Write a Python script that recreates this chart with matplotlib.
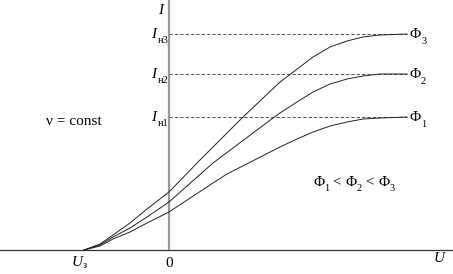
import matplotlib
matplotlib.use("Agg")
import matplotlib.pyplot as plt

# Data (U and I in arbitrary units; origin at U=0, I=0)
U_stop = -85  # U_з
I_sat = [133, 176, 216]  # I_н1, I_н2, I_н3
U_end = 238

U_phi1 = [-85, -69, -56, -39, -22, 0, 44, 58, 111, 128, 144, 161, 178, 194, 211, 238]
I_phi1 = [0, 4, 11, 18, 27, 38, 67, 76, 103, 111, 118, 124, 128, 131, 132, 133]
U_phi2 = [-85, -69, -56, -39, -22, 0, 44, 104, 111, 128, 144, 161, 178, 194, 211, 238]
I_phi2 = [0, 5, 13, 22, 33, 48, 87, 132, 137, 148, 158, 166, 171, 174, 176, 176]
U_phi3 = [-85, -69, -56, -39, -22, 0, 31, 73, 111, 123, 144, 161, 178, 194, 211, 238]
I_phi3 = [0, 6, 15, 27, 41, 58, 90, 132, 168, 177, 193, 203, 209, 213, 215, 216]

sat_labels = ["н1", "н2", "н3"]
phi_labels = ["1", "2", "3"]

plt.rcParams['font.family'] = ['Liberation Serif', 'DejaVu Serif']

fig = plt.figure(figsize=(4.53, 2.74), dpi=100)
ax = fig.add_axes([0, 0, 1, 1])
ax.set_xlim(-169, 284)
ax.set_ylim(-24, 250)
ax.axis('off')

# axes
ax.axhline(0, color='#333333', lw=0.9)
ax.plot([0, 0], [0, 250], color='#999999', lw=1.6, solid_capstyle='butt')

# dashed saturation lines
for Is in I_sat:
    ax.plot([0, U_end], [Is, Is], color='#555555', lw=0.7, ls=(0, (3.5, 2)))

# curves
for Us, Is in [(U_phi1, I_phi1), (U_phi2, I_phi2), (U_phi3, I_phi3)]:
    ax.plot(Us, Is, color='#222222', lw=0.7, solid_joinstyle='round')

fs = 11
sfs = 7.5
# I label
ax.text(-6, 236, "I", fontsize=fs, style='italic', ha='right', va='baseline')
for Is, lab in zip(I_sat, sat_labels):
    ax.text(-13, Is - 4, "I", fontsize=fs, style='italic', ha='right', va='baseline')
    ax.text(-11, Is - 9, lab, fontsize=sfs, ha='left', va='baseline')
for Is, lab in zip(I_sat, phi_labels):
    ax.text(U_end + 3, Is - 4, "Φ", fontsize=fs, ha='left', va='baseline')
    ax.text(U_end + 14, Is - 10, lab, fontsize=sfs, ha='left', va='baseline')

# U axis labels
ax.text(U_stop - 1, -16, "U", fontsize=fs, style='italic', ha='right', va='baseline')
ax.text(U_stop - 1, -18, "з", fontsize=sfs, ha='left', va='baseline')
ax.text(0, -17, "0", fontsize=fs, ha='center', va='baseline')
ax.text(276, -12, "U", fontsize=fs, style='italic', ha='right', va='baseline')

ax.text(-95, 125, "ν = const", fontsize=fs, ha='center', va='baseline')

# Φ1 < Φ2 < Φ3
x0 = 144
y0 = 64
parts = [("Φ", fs, 0), ("1", sfs, -5), (" < ", fs, 0), ("Φ", fs, 0), ("2", sfs, -5), (" < ", fs, 0), ("Φ", fs, 0), ("3", sfs, -5)]
fig.canvas.draw()
renderer = fig.canvas.get_renderer()
xc = x0
for s, size, dy in parts:
    t = ax.text(xc, y0 + dy, s, fontsize=size, ha='left', va='baseline')
    bb = t.get_window_extent(renderer=renderer)
    w = ax.transData.inverted().transform([[bb.x1, 0]])[0][0] - ax.transData.inverted().transform([[bb.x0, 0]])[0][0]
    xc += w

fig.savefig("out.png", dpi=100)
